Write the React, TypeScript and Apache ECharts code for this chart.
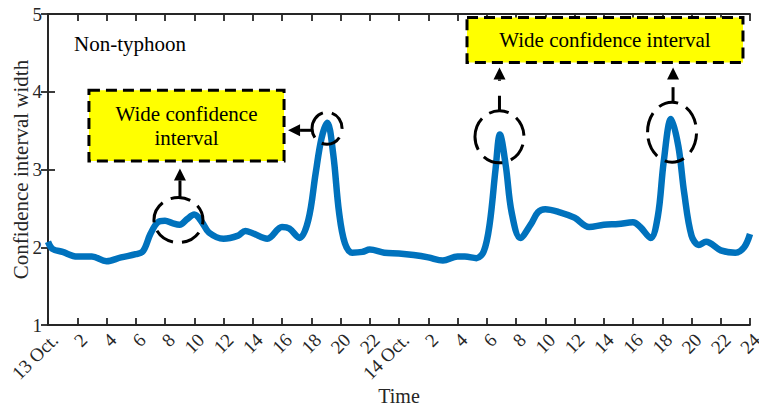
import React, { useEffect, useRef } from 'react';
import * as echarts from 'echarts';

// Hours since 13 Oct. 00:00
const hours = [
  0, 0.3, 1, 2, 3, 4, 5, 6, 6.5, 7, 7.5, 8, 8.5, 9, 9.5, 10, 10.5, 11, 12, 13, 13.5, 14, 15, 16, 16.5,
  17.2, 17.8, 18.3, 18.7, 19.1, 19.5, 19.9, 20.3, 20.8, 21.5, 22, 23, 24, 25, 26, 27, 28, 28.5, 29.3,
  29.8, 30.2, 30.6, 30.9, 31.3, 31.7, 32.3, 33, 33.5, 34, 35, 36, 37, 38, 39, 40, 40.5, 41.2, 41.7,
  42.1, 42.6, 43.1, 43.5, 44, 44.5, 45, 46, 47, 47.6, 48,
];
const ciWidth = [
  2.07, 1.98, 1.94, 1.88, 1.88, 1.82, 1.87, 1.91, 1.95, 2.17, 2.32, 2.34, 2.31, 2.29, 2.36, 2.42, 2.33,
  2.19, 2.11, 2.15, 2.21, 2.18, 2.11, 2.26, 2.24, 2.12, 2.35, 2.95, 3.4, 3.6, 3.2, 2.45, 2.05, 1.93,
  1.94, 1.97, 1.93, 1.92, 1.9, 1.87, 1.83, 1.88, 1.88, 1.86, 1.95, 2.3, 3.0, 3.45, 3.05, 2.45, 2.12,
  2.29, 2.45, 2.49, 2.45, 2.38, 2.26, 2.29, 2.3, 2.32, 2.26, 2.12, 2.4, 3.1, 3.65, 3.3, 2.7, 2.15,
  2.03, 2.07, 1.96, 1.93, 2.0, 2.17,
];
const tickLabels = [
  '13 Oct.', '2', '4', '6', '8', '10', '12', '14', '16', '18', '20', '22',
  '14 Oct.', '2', '4', '6', '8', '10', '12', '14', '16', '18', '20', '22', '24',
];
const yTicks = ['1', '2', '3', '4', '5'];
const panelLabel = 'Non-typhoon';
const xAxisName = 'Time';
const yAxisName = 'Confidence interval width';
const boxTexts = ['Wide confidence\ninterval', 'Wide confidence interval'];

export default function App() {
  const ref = useRef<HTMLDivElement>(null);
  useEffect(() => {
    if (!ref.current) return;
    const chart = echarts.init(ref.current, null, { renderer: 'svg' });
    const font = 'Liberation Serif';
    const axisColor = '#262626';
    const lineStyle = { color: axisColor, width: 1.8 };
    chart.setOption({
      animation: false,
      backgroundColor: '#fff',
      textStyle: { fontFamily: font },
      grid: { left: 48, right: 9, top: 14, bottom: 82, containLabel: false, outerBoundsMode: 'none' },
      xAxis: [
        {
          type: 'value', min: 0, max: 48, interval: 2,
          axisLine: { lineStyle },
          axisTick: { inside: true, length: 7, lineStyle },
          splitLine: { show: false },
          axisLabel: {
            rotate: 45, margin: 5, align: 'right', verticalAlign: 'top',
            fontFamily: font, fontSize: 19, color: axisColor,
            formatter: (v: number) => tickLabels[Math.round(v / 2)] ?? '',
          },
        },
        {
          type: 'value', min: 0, max: 48, interval: 2, position: 'top',
          axisLine: { lineStyle },
          axisTick: { inside: true, length: 7, lineStyle },
          axisLabel: { show: false }, splitLine: { show: false },
        },
      ],
      yAxis: [
        {
          type: 'value', min: 1, max: 5, interval: 1,
          axisLine: { show: true, lineStyle },
          axisTick: { show: true, inside: true, length: 7, lineStyle },
          splitLine: { show: false },
          axisLabel: {
            margin: 6, fontFamily: font, fontSize: 19, color: axisColor,
            formatter: (v: number) => yTicks[Math.round(v - 1)] ?? '',
          },
        },
        {
          type: 'value', min: 1, max: 5, interval: 1, position: 'right',
          axisLine: { show: true, lineStyle },
          axisTick: { show: true, inside: true, length: 7, lineStyle },
          axisLabel: { show: false }, splitLine: { show: false },
        },
      ],
      series: [
        {
          type: 'line',
          xAxisIndex: 0, yAxisIndex: 0,
          data: hours.map((h, i) => [h, ciWidth[i]]),
          showSymbol: false,
          smooth: 0.35,
          lineStyle: { color: '#0072BD', width: 6.5 },
          z: 3,
        },
      ],
    });

    const px = (h: number, v: number) =>
      chart.convertToPixel({ xAxisIndex: 0, yAxisIndex: 0 }, [h, v]) as number[];

    const stroke = { stroke: '#000', lineWidth: 3, fill: 'none' };
    const circleDash = [20, 9];
    const els: any[] = [];

    // axis names
    const centre = px(24, 3);
    const bottomY = px(0, 1)[1];
    const leftX = px(0, 1)[0];
    els.push({
      type: 'text', x: centre[0], y: bottomY + 71,
      style: { text: xAxisName, fontFamily: font, fontSize: 20, fill: axisColor, align: 'center', verticalAlign: 'middle' },
    });
    els.push({
      type: 'text', x: leftX - 27, y: centre[1], rotation: Math.PI / 2,
      style: { text: yAxisName, fontFamily: font, fontSize: 21, fill: axisColor, align: 'center', verticalAlign: 'middle' },
    });

    const pl = px(1.78, 4.62);
    els.push({
      type: 'text', x: pl[0], y: pl[1], z: 100,
      style: { text: panelLabel, fontFamily: font, fontSize: 21, fill: '#000', align: 'left', verticalAlign: 'middle' },
    });

    const boxes = [
      { a: px(2.8, 4.02), b: px(16.14, 3.11), text: boxTexts[0] },
      { a: px(28.65, 4.955), b: px(47.52, 4.377), text: boxTexts[1] },
    ];
    boxes.forEach((bx) => {
      els.push({
        type: 'rect', z: 100,
        shape: { x: bx.a[0], y: bx.a[1], width: bx.b[0] - bx.a[0], height: bx.b[1] - bx.a[1] },
        style: { fill: '#FFFF00', stroke: '#000', lineWidth: 3, lineDash: [11, 6] },
      });
      els.push({
        type: 'text', z: 101,
        x: (bx.a[0] + bx.b[0]) / 2, y: (bx.a[1] + bx.b[1]) / 2,
        style: {
          text: bx.text, fontFamily: font, fontSize: 21, lineHeight: 24, fill: '#000',
          align: 'center', verticalAlign: 'middle',
        },
      });
    });

    const circles = [
      { c: px(8.92, 2.35), rx: 24.5, ry: 22.5 },
      { c: px(19.08, 3.53), rx: 15, ry: 16 },
      { c: px(30.87, 3.42), rx: 24.5, ry: 26 },
      { c: px(42.67, 3.48), rx: 24.5, ry: 30 },
    ];
    circles.forEach((ci) => {
      els.push({
        type: 'ellipse', z: 100,
        shape: { cx: ci.c[0], cy: ci.c[1], rx: ci.rx, ry: ci.ry },
        style: { ...stroke, lineDash: circleDash },
      });
    });

    const headLen = 12;
    const headHalf = 6;
    const arrowUp = (x: number, y0: number, tipY: number, dashed: boolean) => {
      els.push({
        type: 'line', z: 100,
        shape: { x1: x, y1: y0, x2: x, y2: tipY + headLen },
        style: { stroke: '#000', lineWidth: 3, lineDash: dashed ? [15, 15] : null },
      });
      els.push({
        type: 'polygon', z: 100,
        shape: { points: [[x, tipY], [x - headHalf, tipY + headLen], [x + headHalf, tipY + headLen]] },
        style: { fill: '#000' },
      });
    };
    const arrowLeft = (y: number, x0: number, tipX: number) => {
      els.push({
        type: 'line', z: 100,
        shape: { x1: x0, y1: y, x2: tipX + headLen, y2: y },
        style: { stroke: '#000', lineWidth: 3 },
      });
      els.push({
        type: 'polygon', z: 100,
        shape: { points: [[tipX, y], [tipX + headLen, y - headHalf], [tipX + headLen, y + headHalf]] },
        style: { fill: '#000' },
      });
    };

    const c1 = circles[0], c2 = circles[1], c3 = circles[2], c4 = circles[3];
    arrowUp(c1.c[0] + 1.5, c1.c[1] - c1.ry, boxes[0].b[1] + 7.5, false);
    arrowLeft(c2.c[1] + 2, c2.c[0] - c2.rx, boxes[0].b[0] + 4);
    arrowUp(c3.c[0], c3.c[1] - c3.ry, boxes[1].b[1] + 5, true);
    arrowUp(c4.c[0] + 1, c4.c[1] - c4.ry, boxes[1].b[1] + 5, true);

    chart.setOption({ graphic: els });
    return () => chart.dispose();
  }, []);

  return (
    <div
      ref={ref}
      style={{ position: 'fixed', left: 0, top: 0, width: 759, height: 407, background: '#fff' }}
    />
  );
}
